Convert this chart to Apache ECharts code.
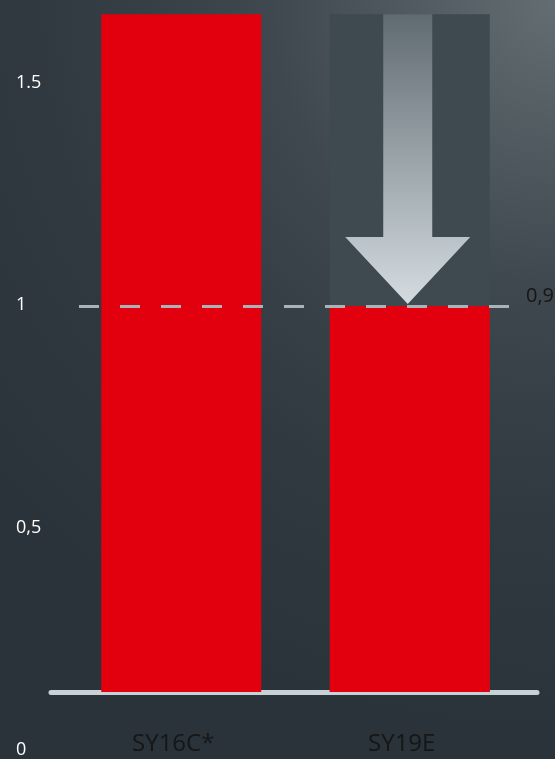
<!DOCTYPE html>
<html><head><meta charset="utf-8">
<style>html,body{margin:0;padding:0;background:#2a333a}#c{width:555px;height:759px}</style>
<script src="https://cdn.jsdelivr.net/npm/echarts@6/dist/echarts.min.js"></script>
</head><body><div id="c"></div>
<script>
const categories = ['SY16C*', 'SY19E'];
const values = [1.58, 0.9];
const previousLevel = [null, 1.58];
const arrowFrom = 1.58;
const referenceValue = 0.9;
const referenceLabel = '0,9';
const yTickValues = [0, 0.5, 1, 1.5];
const yTickLabels = ['0', '0,5', '1', '1.5'];

const BAR_MIN = -0.1352, BAR_MAX = 1.5808, LABEL_MAX = 1.654;
const FONT = 'Open Sans';

const chart = echarts.init(document.getElementById('c'));
const bg = new echarts.graphic.RadialGradient(1, 0, 1.35, [
  {offset: 0, color: '#646d72'},
  {offset: 0.1, color: '#5a6368'},
  {offset: 0.38, color: '#3e484e'},
  {offset: 0.55, color: '#353f45'},
  {offset: 0.7, color: '#30393f'},
  {offset: 1, color: '#2a333a'}
]);
const gridBase = {top: 14, bottom: 9, containLabel: false, outerBoundsMode: 'none'};
chart.setOption({
  backgroundColor: bg,
  animation: false,
  grid: [
    Object.assign({left: 67, right: 31}, gridBase),
    Object.assign({left: 79, right: 44}, gridBase),
    Object.assign({left: 51, right: 18}, gridBase)
  ],
  xAxis: [
    {type: 'category', gridIndex: 0, data: categories, position: 'bottom',
     axisLine: {show: false, onZero: false},
     axisTick: {show: false},
     axisLabel: {color: '#161616', fontSize: 24, margin: -18, fontFamily: FONT, padding: [0, 16, 0, 0]}},
    {type: 'category', gridIndex: 1, data: [''], show: false},
    {type: 'category', gridIndex: 2, data: [''],
     axisLine: {show: true, onZero: true, lineStyle: {color: '#c8d1d5', width: 5}},
     axisTick: {show: false}, axisLabel: {show: false}}
  ],
  yAxis: [
    {type: 'value', gridIndex: 0, position: 'left', min: BAR_MIN, max: BAR_MAX, show: false, splitLine: {show: false}},
    {type: 'value', gridIndex: 0, position: 'left', min: 0, max: LABEL_MAX, interval: 0.5,
     axisLine: {show: false}, axisTick: {show: false}, splitLine: {show: false},
     axisLabel: {align: 'left', margin: 51, color: '#ffffff', fontSize: 18, fontFamily: FONT,
       formatter: v => { const i = yTickValues.findIndex(t => Math.abs(t - v) < 1e-6); return i >= 0 ? yTickLabels[i] : ''; }}},
    {type: 'value', gridIndex: 1, min: BAR_MIN, max: BAR_MAX, show: false, splitLine: {show: false}},
    {type: 'value', gridIndex: 2, min: BAR_MIN, max: BAR_MAX, show: false, splitLine: {show: false}}
  ],
  series: [
    {type: 'bar', xAxisIndex: 0, yAxisIndex: 0, data: previousLevel, barWidth: 160, barGap: '-100%',
     itemStyle: {color: '#3e4a50'}, z: 1, silent: true},
    {type: 'bar', xAxisIndex: 0, yAxisIndex: 0, data: values, barWidth: 160, barGap: '-100%',
     itemStyle: {color: '#e2000f'}, z: 2, silent: true},
    {type: 'custom', xAxisIndex: 0, yAxisIndex: 0, data: [[1, arrowFrom, referenceValue]], z: 3, silent: true,
     encode: {x: 0, y: [1, 2]},
     renderItem: (params, api) => {
       const top = api.coord([api.value(0), api.value(1)]);
       const tip = api.coord([api.value(0), api.value(2)]);
       const cx = tip[0] - 2, sw = 24.5, hw = 62.5, hh = 67, ty = tip[1] - 2;
       return {type: 'polygon', shape: {points: [
         [cx - sw, top[1]], [cx + sw, top[1]], [cx + sw, ty - hh], [cx + hw, ty - hh],
         [cx, ty], [cx - hw, ty - hh], [cx - sw, ty - hh]]},
         style: {fill: new echarts.graphic.LinearGradient(0, 0, 0, 1, [
           {offset: 0, color: '#606b71'}, {offset: 1, color: '#d4dce0'}])}};
     }},
    {type: 'line', xAxisIndex: 1, yAxisIndex: 2, data: [], z: 4,
     markLine: {silent: true, symbol: 'none', data: [{yAxis: referenceValue}],
       lineStyle: {color: '#a9b3b8', width: 3, type: [20, 21]},
       label: {position: 'end', formatter: referenceLabel, color: '#161616', fontSize: 20, fontFamily: FONT,
         distance: 15, verticalAlign: 'bottom'}}},
    {type: 'line', xAxisIndex: 2, yAxisIndex: 3, data: []}
  ]
});
</script></body></html>
